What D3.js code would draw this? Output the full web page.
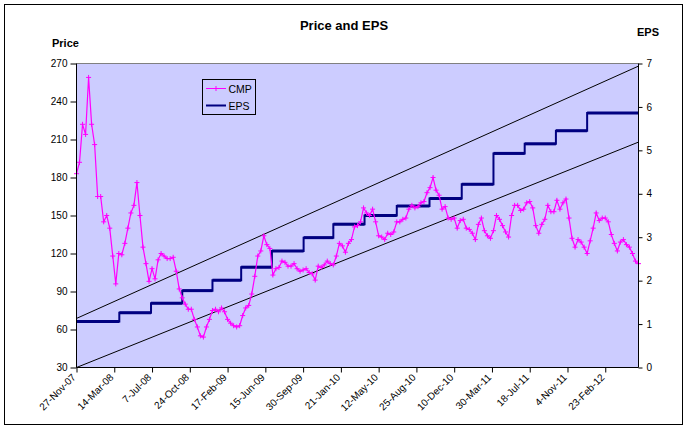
<!DOCTYPE html>
<html><head><meta charset="utf-8">
<script src="https://cdn.jsdelivr.net/npm/d3@7"></script>
<style>
body{margin:0;background:#fff}
svg{display:block}
text{font-family:"Liberation Sans",Arial,sans-serif;fill:#000}
</style>
</head><body>
<svg id="chart" width="688" height="430"></svg>
<script>
// ---- data ----
const dateLabels = ["27-Nov-07","14-Mar-08","7-Jul-08","24-Oct-08","17-Feb-09","15-Jun-09","30-Sep-09","21-Jan-10","12-May-10","25-Aug-10","10-Dec-10","30-Mar-11","18-Jul-11","4-Nov-11","23-Feb-12"];
const labelEvery = 75;      // trading days between date labels
const totalDays = 1116;     // trading days on the category axis
const cmpEvery = 6;         // CMP sampled every 6 trading days
const cmp = [183,192,222,214,259,222,206,165,165,145,150,140,118,96,120,119,128,140,152,158,
176,150,125,112,98,108,100,115,120,118,116,116,117,106,92,85,80,76,76,68,
62,55,54,62,68,75,76,74,77,74,68,65,63,62,63,71,77,79,88,102,
118,122,134,127,124,103,108,109,114,113,110,110,112,108,106,107,108,105,104,99,
110,109,111,114,112,111,118,128,126,121,128,131,141,142,145,156,152,150,155,145,
134,133,131,136,135,137,145,145,147,148,155,158,156,157,160,161,168,172,180,170,
166,155,157,148,147,148,140,146,147,140,139,136,131,143,148,138,134,132,138,150,
147,142,137,133,150,158,158,154,155,160,161,156,142,136,143,147,158,153,153,162,
155,160,163,148,132,125,131,129,125,120,130,140,152,146,148,148,145,135,128,122,
129,131,127,125,120,114,112];
const epsStart = [0,85,148,210,270,327,388,451,510,572,636,701,765,828,890,952,1014];
const epsValue = [1.06,1.26,1.48,1.77,2.01,2.31,2.68,2.99,3.30,3.50,3.72,3.89,4.22,4.93,5.15,5.45,5.86];
const priceTicks = [30,60,90,120,150,180,210,240,270];
const epsTicks = [0,1,2,3,4,5,6,7];
const bandUpper = [1.13, 6.94];   // EPS-axis values at first and last day
const bandLower = [0, 5.19];

// ---- layout ----
const L = 76.5, R = 638.5, T = 63.5, B = 367.5;
const svg = d3.select("#chart");

svg.append("rect").attr("x",4.5).attr("y",4.5).attr("width",678).attr("height",420)
  .attr("fill","#fff").attr("stroke","#000").attr("stroke-width",1);

const x = d3.scaleLinear().domain([0,totalDays]).range([L,R]);
const yP = d3.scaleLinear().domain([30,270]).range([B,T]);
const yE = d3.scaleLinear().domain([0,7]).range([B,T]);

// plot area
svg.append("rect").attr("x",L).attr("y",T).attr("width",R-L).attr("height",B-T)
  .attr("fill","#CCCCFF");
svg.append("line").attr("x1",L).attr("x2",R).attr("y1",T).attr("y2",T)
  .attr("stroke","#808080").attr("stroke-width",1);

// title
svg.append("text").attr("x",344).attr("y",30).attr("text-anchor","middle")
  .attr("font-size",13).attr("font-weight","bold").text("Price and EPS");
svg.append("text").attr("x",52).attr("y",47).attr("font-size",11).attr("font-weight","bold").text("Price");
svg.append("text").attr("x",637).attr("y",36).attr("font-size",11).attr("font-weight","bold").text("EPS");

// band lines
const g = svg.append("g");
g.append("line").attr("x1",x(0)).attr("y1",yE(bandUpper[0])).attr("x2",x(totalDays)).attr("y2",yE(bandUpper[1]))
  .attr("stroke","#000").attr("stroke-width",1);
g.append("line").attr("x1",x(0)).attr("y1",yE(bandLower[0])).attr("x2",x(totalDays)).attr("y2",yE(bandLower[1]))
  .attr("stroke","#000").attr("stroke-width",1);

// EPS step line
const epsPts = epsStart.map((s,i)=>[s,epsValue[i]]);
epsPts.push([totalDays, epsValue[epsValue.length-1]]);
g.append("path").attr("d", d3.line().curve(d3.curveStepAfter).x(d=>x(d[0])).y(d=>yE(d[1]))(epsPts))
  .attr("fill","none").attr("stroke","#000080").attr("stroke-width",2);
g.selectAll(".epsh").data(epsStart).join("line")
  .attr("x1",(s)=>x(s)).attr("x2",(s,i)=>x(i+1<epsStart.length?epsStart[i+1]:totalDays))
  .attr("y1",(s,i)=>yE(epsValue[i])).attr("y2",(s,i)=>yE(epsValue[i]))
  .attr("stroke","#000080").attr("stroke-width",3);

// CMP line
const cmpLine = d3.line().x((d,i)=>x(i*cmpEvery)).y(d=>yP(d));
g.append("path").attr("d",cmpLine(cmp)).attr("fill","none").attr("stroke","#FF00FF").attr("stroke-width",1.2);
g.selectAll(".cm").data(cmp).join("path")
  .attr("d",(d,i)=>{const px=x(i*cmpEvery), py=yP(d); return `M${px-2.5},${py}H${px+2.5}M${px},${py-2.5}V${py+2.5}`;})
  .attr("stroke","#FF00FF").attr("stroke-width",1).attr("fill","none");

// axes
const axL = svg.append("g").attr("transform",`translate(${L},0)`)
  .call(d3.axisLeft(yP).tickValues(priceTicks).tickSize(6).tickPadding(3));
const axR = svg.append("g").attr("transform",`translate(${R},0)`)
  .call(d3.axisRight(yE).tickValues(epsTicks).tickFormat(d3.format("d")).tickSize(4).tickPadding(4));
const axB = svg.append("g").attr("transform",`translate(0,${B})`)
  .call(d3.axisBottom(x).tickValues(dateLabels.map((d,i)=>i*labelEvery))
    .tickFormat((d)=>dateLabels[Math.round(d/labelEvery)]).tickSize(5).tickSizeOuter(0));
[axL,axR,axB].forEach(a=>{
  a.select(".domain").attr("stroke","#000");
  a.selectAll(".tick line").attr("stroke","#000");
  a.selectAll("text").attr("font-size",10).attr("font-family",'"Liberation Sans",Arial,sans-serif').attr("fill","#000");
});
axL.select(".domain").attr("d",`M0,${T}V${B}`);
axR.select(".domain").attr("d",`M0,${T}V${B}`);
axB.select(".domain").attr("d",`M${L},0H${R}`);
axB.selectAll(".tick text").attr("text-anchor","end").attr("y",0).attr("dy","0.35em")
  .attr("transform","translate(-3,8) rotate(-45)");

// legend
const lg = svg.append("g");
lg.append("rect").attr("x",202.5).attr("y",79.5).attr("width",53).attr("height",35)
  .attr("fill","#CCCCFF").attr("stroke","#000").attr("stroke-width",1);
lg.append("line").attr("x1",206).attr("x2",226).attr("y1",88.5).attr("y2",88.5).attr("stroke","#FF00FF").attr("stroke-width",1);
lg.append("path").attr("d","M213.5,88.5H218.5M216,86V91").attr("stroke","#FF00FF").attr("stroke-width",1);
lg.append("text").attr("x",228.5).attr("y",92.5).attr("font-size",10.5).text("CMP");
lg.append("line").attr("x1",206).attr("x2",226).attr("y1",105.5).attr("y2",105.5).attr("stroke","#000080").attr("stroke-width",2);
lg.append("text").attr("x",228.5).attr("y",109.5).attr("font-size",10.5).text("EPS");
</script>
</body></html>
